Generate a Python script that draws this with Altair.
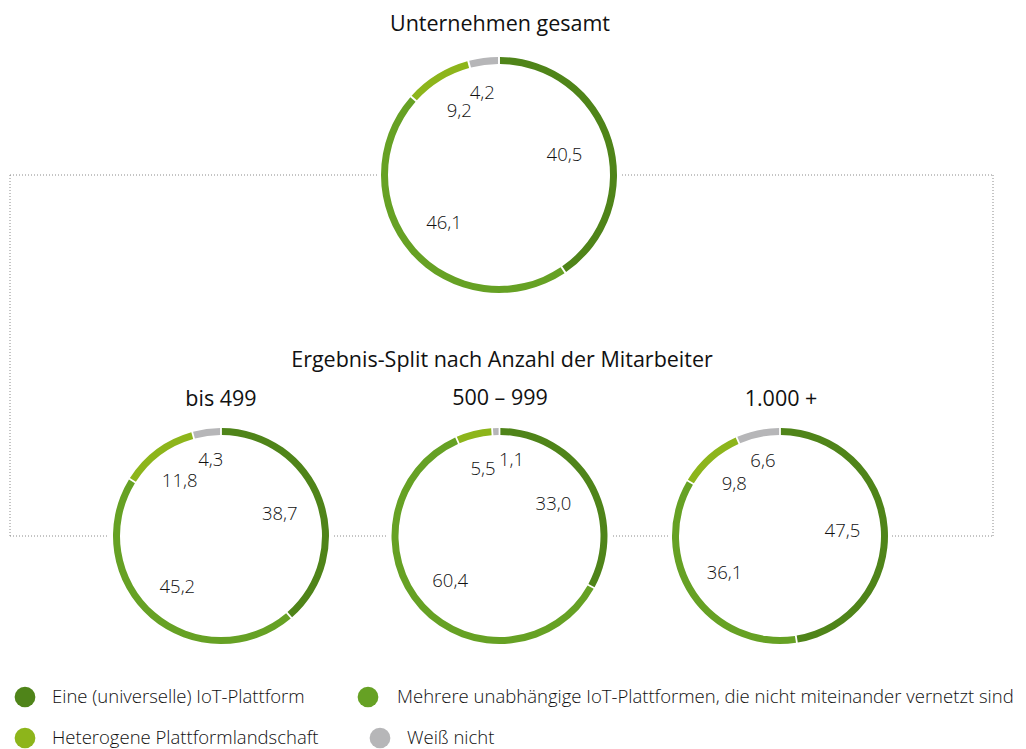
import math
import altair as alt
import pandas as pd

# ---- data ----
panels = ["Unternehmen gesamt", "bis 499", "500 – 999", "1.000 +"]
categories = [
    "Eine (universelle) IoT-Plattform",
    "Mehrere unabhängige IoT-Plattformen, die nicht miteinander vernetzt sind",
    "Heterogene Plattformlandschaft",
    "Weiß nicht",
]
eine = [40.5, 38.7, 33.0, 47.5]
mehrere = [46.1, 45.2, 60.4, 36.1]
heterogen = [9.2, 11.8, 5.5, 9.8]
weiss_nicht = [4.2, 4.3, 1.1, 6.6]
main_title = "Unternehmen gesamt"
split_title = "Ergebnis-Split nach Anzahl der Mitarbeiter"

colors = ["#4f8419", "#66a124", "#8db51b", "#b6b6b8"]

# ---- layout (page pixel coordinates) ----
W, H = 1010, 741
cx = [499, 221, 499.5, 780]
cy = [175, 536, 536, 536]
r_out = [118, 108, 108, 108]
ring = 7
label_factor = [0.58, 0.62, 0.64, 0.71]
# small angular nudge (degrees) for the "Weiß nicht" labels, per panel
small_nudge = [-4, 0, 11, -1]

series = [eine, mehrere, heterogen, weiss_nicht]
rows = []
for p, name in enumerate(panels):
    cum = 0.0
    for c, cat in enumerate(categories):
        v = series[c][p]
        t0 = cum / 100 * 2 * math.pi
        cum += v
        t1 = cum / 100 * 2 * math.pi
        tm = (t0 + t1) / 2
        if c == 3:
            tm += math.radians(small_nudge[p])
        rows.append(dict(panel=name, cat=cat, v=v, t0=t0, t1=t1, tm=tm,
                         cx=cx[p], cy=cy[p], ro=r_out[p], ri=r_out[p] - ring,
                         rl=r_out[p] * label_factor[c]))
df = pd.DataFrame(rows)

discs = pd.DataFrame(dict(cx=cx, cy=cy, ro=[r + 4 for r in r_out], t0=0.0, t1=2 * math.pi))

# dotted connector frame
rx0, rx1, ry0, ry1 = 10, 993, 175, 536
frame = pd.DataFrame(dict(x=[rx0, rx0, rx0, rx1], x2=[rx1, rx1, rx0, rx1],
                          y=[ry0, ry1, ry0, ry0], y2=[ry0, ry1, ry1, ry1]))

titles = pd.DataFrame(dict(
    text=[main_title, split_title] + panels[1:],
    x=[500, 502, 221, 500, 781],
    y=[25, 361, 400, 399, 400],
))

legend = pd.DataFrame(dict(
    cat=categories,
    x=[25, 368, 25, 380],
    y=[697, 697, 738, 738],
    tx=[52, 397, 52, 407],
))

xs = alt.Scale(domain=[8, 8 + W])
ys = alt.Scale(domain=[8, 8 + H], reverse=True)
cs = alt.Scale(domain=categories, range=colors)
FONT = "Open Sans"

X = lambda f: alt.X(f, type="quantitative", scale=xs, axis=None)
Y = lambda f: alt.Y(f, type="quantitative", scale=ys, axis=None)

frame_layer = alt.Chart(frame).mark_rule(color="#8a8a8a", strokeDash=[1, 2], strokeWidth=1).encode(
    x=X("x"), x2="x2", y=Y("y"), y2="y2")

disc_layer = alt.Chart(discs).mark_arc(fill="white").encode(
    x=X("cx"), y=Y("cy"),
    theta=alt.Theta("t0:Q", scale=None, stack=False), theta2="t1",
    radius=alt.Radius("ro:Q", scale=None))

arc_layer = alt.Chart(df).mark_arc(padAngle=0.012).encode(
    x=X("cx"), y=Y("cy"),
    theta=alt.Theta("t0:Q", scale=None, stack=False), theta2="t1",
    radius=alt.Radius("ro:Q", scale=None), radius2="ri",
    color=alt.Color("cat:N", scale=cs, legend=None))

label_layer = alt.Chart(df).transform_calculate(
    lab="replace(format(datum.v, '.1f'), '.', ',')"
).mark_text(font=FONT, fontSize=18.5, fontWeight=300, color="#111111", align="center", baseline="middle").encode(
    x=X("cx"), y=Y("cy"),
    theta=alt.Theta("tm:Q", scale=None, stack=False),
    radius=alt.Radius("rl:Q", scale=None),
    text="lab:N")

title_layer = alt.Chart(titles).mark_text(font=FONT, fontSize=21.5, fontWeight=400, color="#111111",
                                           align="center", baseline="middle").encode(
    x=X("x"), y=Y("y"), text="text:N")

legend_dots = alt.Chart(legend).mark_circle(size=430, opacity=1).encode(
    x=X("x"), y=Y("y"), color=alt.Color("cat:N", scale=cs, legend=None))

legend_text = alt.Chart(legend).mark_text(font=FONT, fontSize=18.5, fontWeight=300, color="#111111",
                                          align="left", baseline="middle").encode(
    x=X("tx"), y=Y("y"), text="cat:N")

chart = alt.layer(frame_layer, disc_layer, arc_layer, label_layer, title_layer,
                  legend_dots, legend_text).properties(
    width=W, height=H, autosize=alt.AutoSizeParams(type="none"), padding=0
).configure_view(stroke=None)

chart.save("out.html", embed_options={"renderer": "svg", "actions": False})
